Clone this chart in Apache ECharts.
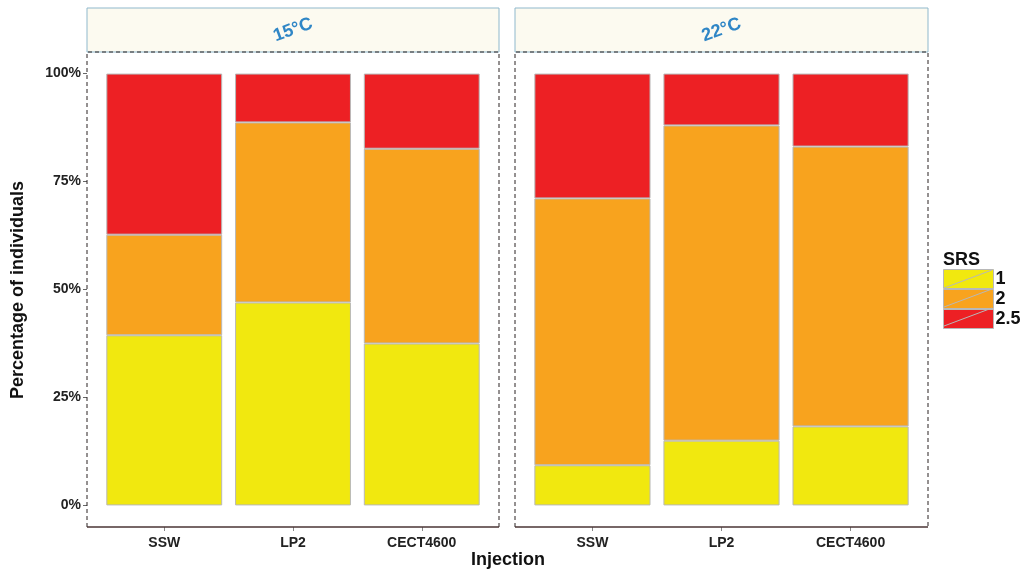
<!DOCTYPE html>
<html>
<head>
<meta charset="utf-8">
<script src="https://cdn.jsdelivr.net/npm/echarts@6/dist/echarts.min.js"></script>
<style>html,body{margin:0;padding:0;background:#fff}#c{width:1024px;height:571px}</style>
</head>
<body>
<div id="c"></div>
<script>
const categories = ['SSW', 'LP2', 'CECT4600'];
const panels = ['15°C', '22°C'];
const srsLevels = ['1', '2', '2.5'];
const srs1_15 = [39.4, 47.0, 37.5];
const srs2_15 = [23.3, 41.7, 45.1];
const srs25_15 = [37.3, 11.3, 17.4];
const srs1_22 = [9.3, 15.0, 18.3];
const srs2_22 = [61.8, 73.0, 64.8];
const srs25_22 = [28.9, 12.0, 16.9];
const yTicks = [0, 25, 50, 75, 100];

const colors = {'1': '#f1e80f', '2': '#f8a31e', '2.5': '#ed2024'};
const FONT = '"Liberation Sans", Arial, sans-serif';

const chart = echarts.init(document.getElementById('c'), null, {renderer: 'canvas'});

const panelData = [[srs1_15, srs2_15, srs25_15], [srs1_22, srs2_22, srs25_22]];
const panelBoxes = [{left: 87, width: 412}, {left: 515, width: 413}];
const TOP = 52, BOTTOM = 527;
const grids = panelBoxes.map(b => {
  const unit = b.width / 3.2;
  return {left: b.left + 0.1 * unit, width: 3 * unit, offset: 0.1 * unit};
});

const series = [];
panelData.forEach((arrs, p) => {
  arrs.forEach((vals, k) => {
    series.push({
      type: 'bar', name: srsLevels[k], stack: 'p' + p,
      xAxisIndex: p, yAxisIndex: p,
      barWidth: '90%',
      itemStyle: {color: colors[srsLevels[k]], borderColor: '#b8b8b8', borderWidth: 1},
      emphasis: {disabled: true},
      data: vals
    });
  });
});

const graphic = [];
panelBoxes.forEach((g, p) => {
  graphic.push({type: 'rect', shape: {x: g.left, y: 8, width: g.width, height: TOP - 8},
    style: {fill: '#fcfaf0', stroke: '#8fb8cc', lineWidth: 1}, z: 1});
  graphic.push({type: 'text', x: g.left + g.width / 2, y: 30, rotation: 20 * Math.PI / 180,
    style: {text: panels[p], fill: '#2f86c6', font: 'bold 18px ' + FONT, align: 'center', verticalAlign: 'middle'}, z: 5});
  graphic.push({type: 'polyline', shape: {points: [[g.left, BOTTOM], [g.left, TOP], [g.left + g.width, TOP], [g.left + g.width, BOTTOM]]},
    style: {stroke: '#2b2222', lineWidth: 1, lineDash: [4, 3], fill: null}, z: 10});
  graphic.push({type: 'line', shape: {x1: g.left, y1: BOTTOM, x2: g.left + g.width, y2: BOTTOM},
    style: {stroke: '#4a3535', lineWidth: 1.5}, z: 10});
});
graphic.push({type: 'text', x: 943, y: 260, style: {text: 'SRS', fill: '#111', font: 'bold 18px ' + FONT, verticalAlign: 'middle'}});
for (let k = 0; k < 3; k++) {
  graphic.push({type: 'line', shape: {x1: 944, y1: 288 + k * 19, x2: 992, y2: 270 + k * 19},
    style: {stroke: '#b8b8b8', lineWidth: 1}, z: 20});
}
graphic.push({type: 'text', x: 18, y: 290, rotation: Math.PI / 2,
  style: {text: 'Percentage of individuals', fill: '#111', font: 'bold 18px ' + FONT, align: 'center', verticalAlign: 'middle'}});
graphic.push({type: 'text', x: 508, y: 560,
  style: {text: 'Injection', fill: '#111', font: 'bold 18px ' + FONT, align: 'center', verticalAlign: 'middle'}});

const option = {
  animation: false,
  backgroundColor: '#fff',
  grid: grids.map(g => ({left: g.left, width: g.width, top: TOP, height: BOTTOM - TOP, containLabel: false})),
  xAxis: grids.map((g, p) => ({
    type: 'category', gridIndex: p, data: categories, position: 'bottom',
    axisLine: {show: false, onZero: false},
    axisTick: {show: true, inside: false, alignWithLabel: true, length: 4, lineStyle: {color: '#888'}},
    axisLabel: {color: '#222', fontWeight: 'bold', fontSize: 14, fontFamily: FONT, margin: 9}
  })),
  yAxis: grids.map((g, p) => ({
    type: 'value', gridIndex: p, min: -5, max: 105, offset: g.offset,
    splitLine: {show: false},
    axisLine: {show: false, onZero: false},
    axisTick: {show: p === 0, length: 4, lineStyle: {color: '#666'}, customValues: yTicks},
    axisLabel: {show: p === 0, customValues: yTicks, formatter: v => v + '%',
      color: '#222', fontWeight: 'bold', fontSize: 14, fontFamily: FONT, margin: 6}
  })),
  legend: {
    orient: 'vertical', left: 943, top: 269, padding: 0, itemGap: 0, itemWidth: 50, itemHeight: 19,
    icon: 'rect', data: srsLevels, selectedMode: false,
    itemStyle: {borderColor: '#b8b8b8', borderWidth: 1},
    textStyle: {color: '#111', fontWeight: 'bold', fontSize: 18, fontFamily: FONT, lineHeight: 19, height: 19, padding: [0, 0, 0, -3]}
  },
  graphic: graphic,
  series: series
};
chart.setOption(option);
</script>
</body>
</html>
